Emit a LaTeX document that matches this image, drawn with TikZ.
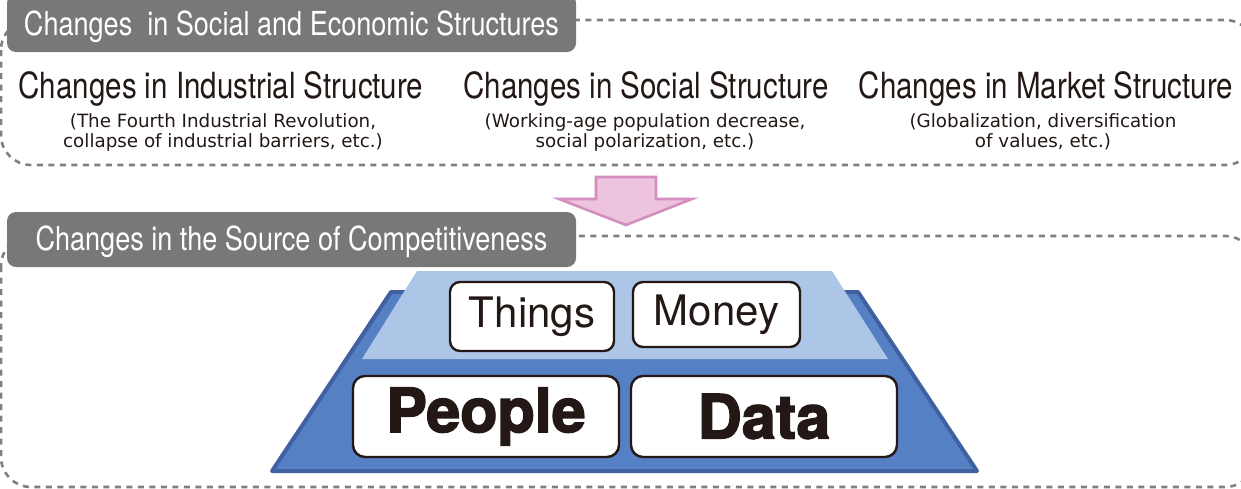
\documentclass[tikz,border=0pt]{standalone}
\usepackage{fontspec}
\setmainfont{TeX Gyre Heros}
\newfontfamily\condfont[FakeStretch=0.82]{TeX Gyre Heros}
\newfontfamily\subfont{DejaVu Sans}
\newfontfamily\heavyfont{texgyreheros-bold.otf}[FakeBold=2.5]
\definecolor{ink}{HTML}{231815}
\definecolor{labgray}{HTML}{787878}
\definecolor{dashgray}{HTML}{808080}
\definecolor{lightblue}{HTML}{ADC6E8}
\definecolor{midblue}{HTML}{5580C3}
\definecolor{darkblue}{HTML}{40609F}
\definecolor{pinkfill}{HTML}{EDC3DD}
\definecolor{pinkline}{HTML}{D38FC0}
\tikzset{
  groupbox/.style={draw=dashgray, line width=2.6pt, dash pattern=on 6pt off 5.5pt, rounded corners=30pt},
  grouplabel/.style={fill=labgray, rounded corners=9pt, text=white, inner sep=0pt,
    minimum width=569pt, font=\condfont\fontsize{33}{35}\selectfont},
  heading/.style={anchor=base, text=ink, inner sep=0pt, font=\condfont\fontsize{36}{38}\selectfont},
  subtext/.style={align=center, text=ink, inner sep=0pt, font=\subfont\fontsize{18.3}{20}\selectfont},
  smallbox/.style={draw=ink, line width=2.4pt, fill=white, rounded corners=10pt, inner sep=0pt,
    text=ink, font=\fontsize{42}{44}\selectfont},
  bigbox/.style={draw=ink, line width=2.4pt, fill=white, rounded corners=12pt, inner sep=0pt,
    text=ink, minimum width=266pt, minimum height=81pt, font=\heavyfont\fontsize{61}{64}\selectfont},
}
\begin{document}
\begin{tikzpicture}[x=1pt, y=-1pt]
\useasboundingbox (0,0) rectangle (1241,488);
\clip (0,0) rectangle (1241,488);
% dashed group frames
\draw[groupbox] (1,20) rectangle (1255,165);
\draw[groupbox] (1,236) rectangle (1255,487);
% group labels
\node[grouplabel, minimum height=58pt, text height=24pt, text depth=0pt] (lab1) at (291.5,23) {Changes\ \ in Social and Economic Structures};
\node[grouplabel, minimum height=55pt, text height=22pt, text depth=1pt] (lab2) at (291.5,239.5) {Changes in the Source of Competitiveness};
% headings
\node[heading] (h1) at (221,98) {Changes in Industrial Structure};
\node[heading] (h2) at (646,98) {Changes in Social Structure};
\node[heading] (h3) at (1046,98) {Changes in Market Structure};
\node[subtext] (s1) at (223,132) {(The Fourth Industrial Revolution,\\collapse of industrial barriers, etc.)};
\node[subtext] (s2) at (645,132) {(Working-age population decrease,\\social polarization, etc.)};
\node[subtext] (s3) at (1043,132) {(Globalization, diversification\\of values, etc.)};
% arrow
\draw[fill=pinkfill, draw=pinkline, line width=2.6pt, line join=miter]
  (596,177) -- (656,177) -- (656,199) -- (692,199) -- (626,225) -- (559,199) -- (596,199) -- cycle;
% pyramid
\draw[fill=midblue, draw=darkblue, line width=4pt, line join=round]
  (391,292) -- (858,292) -- (977,471) -- (272,471) -- cycle;
\fill[lightblue] (417,271) -- (832,271) -- (888,359) -- (362,359) -- cycle;
% boxes
\node[smallbox, minimum width=164pt, minimum height=69pt] (things) at (532,316.5) {Things};
\node[smallbox, minimum width=167pt, minimum height=65pt] (money) at (716.5,314.5) {Money};
\node[bigbox] (people) at (486,416.5) {People};
\node[bigbox] (data) at (764,416.5) {Data};
\end{tikzpicture}
\end{document}
